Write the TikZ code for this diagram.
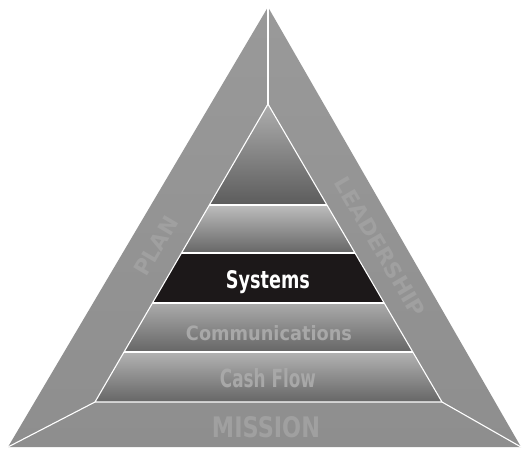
\documentclass[tikz,border=0pt]{standalone}
\usepackage{fontspec}
\setmainfont{DejaVu Sans}
\usepackage{graphicx}
\definecolor{band}{HTML}{8E8E8E}
\definecolor{bandtxt}{HTML}{A0A0A0}
\definecolor{layertxt}{HTML}{A8A8A8}
\definecolor{sysblack}{HTML}{1C1819}
\tikzset{
  sep/.style={draw=white, line width=1.1pt},
  lbl/.style={inner sep=0pt, anchor=base},
  bandlbl/.style={inner sep=0pt, text=bandtxt},
}
\newcommand{\fitlbl}[3]{\resizebox{#1pt}{#2pt}{\bfseries #3}}
\begin{document}
\begin{tikzpicture}[x=1pt,y=-1pt]
\useasboundingbox (0,0) rectangle (523,450);
\coordinate (A) at (268,7);
\coordinate (BL) at (8,447);
\coordinate (BR) at (521,447);
\coordinate (I) at (268,104);
\coordinate (IL) at (95,402);
\coordinate (IR) at (442,402);
% outer band
\shade[top color=band!90!white, bottom color=band] (A)--(BL)--(BR)--cycle;
% inner layers
\begin{scope}
\clip (I)--(IL)--(IR)--cycle;
\shade[top color=black!32, bottom color=black!64] (80,104) rectangle (460,205);
\shade[top color=black!26, bottom color=black!60] (80,205) rectangle (460,253);
\fill[sysblack] (80,253) rectangle (460,303);
\shade[top color=black!33, bottom color=black!60] (80,303) rectangle (460,352);
\shade[top color=black!30, bottom color=black!60] (80,352) rectangle (460,402);
\draw[sep] (80,205) -- (460,205);
\draw[sep] (80,253) -- (460,253);
\draw[sep] (80,303) -- (460,303);
\draw[sep] (80,352) -- (460,352);
\end{scope}
% white lines
\draw[sep] (I)--(IL)--(IR)--cycle;
\draw[sep] (A) -- (I);
\draw[sep] (IL) -- (BL);
\draw[sep] (IR) -- (BR);
% labels
\node[lbl, text=white] (sys) at (268,288) {\fitlbl{84}{18}{Systems}};
\node[lbl, text=layertxt] (com) at (269,340) {\fitlbl{166}{15}{Communications}};
\node[lbl, text=layertxt] (cash) at (268,387) {\fitlbl{96}{19}{Cash Flow}};
\node[lbl, text=bandtxt] (mis) at (266,437) {\fitlbl{108}{21}{MISSION}};
\node[bandlbl, rotate=59.6] (plan) at (156,246) {\fitlbl{64}{16}{PLAN}};
\node[bandlbl, rotate=-59.6] (lead) at (380,247) {\fitlbl{158}{16}{LEADERSHIP}};
\end{tikzpicture}
\end{document}
